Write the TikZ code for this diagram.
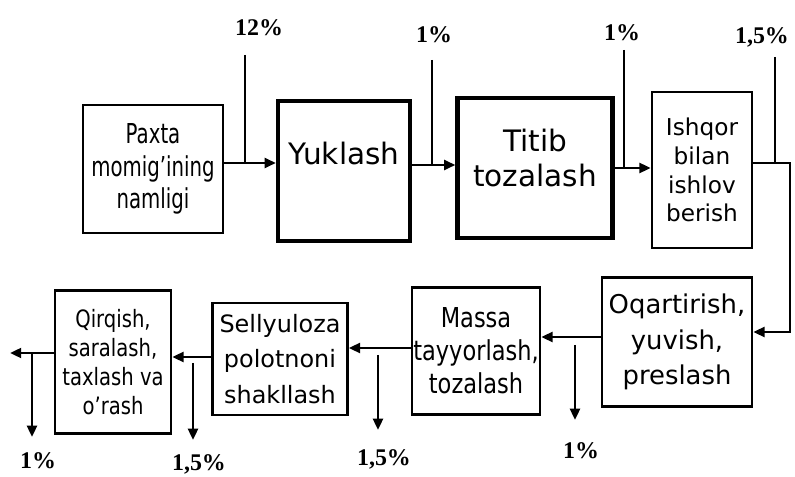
\documentclass[tikz,border=0pt]{standalone}
\usepackage{fontspec}
\setmainfont{DejaVu Sans}
\newfontfamily\narrowfont[FakeStretch=0.72]{DejaVu Sans}
\newfontfamily\semifont[FakeStretch=0.82]{DejaVu Sans}
\newfontfamily\pctfont{Liberation Serif}
\usetikzlibrary{arrows.meta}

\begin{document}
\begin{tikzpicture}[x=0.025cm,y=-0.025cm,
  box/.style={draw,line width=1.8pt,align=center,inner sep=0pt},
  bigbox/.style={box,line width=3pt},
  arr/.style={line width=1.8pt,-{Triangle[length=8pt,width=7pt]}},
  feed/.style={line width=1.5pt},
  pct/.style={font=\pctfont\bfseries\fontsize{17}{17}\selectfont}]
  \useasboundingbox (0,0) rectangle (795,477);

  % top row
  \node[box,minimum width=3.5cm,minimum height=3.2cm,
        font=\narrowfont\fontsize{19.5}{23}\selectfont] (paxta) at (153,169)
    {Paxta\\momig’ining\\namligi};
  \node[bigbox,minimum width=3.3cm,minimum height=3.5cm,text depth=0.9cm,
        font=\fontsize{21}{25}\selectfont] (yuklash) at (344,171) {Yuklash};
  \node[bigbox,minimum width=3.875cm,minimum height=3.5cm,text depth=0.5cm,
        font=\fontsize{21}{25}\selectfont] (titib) at (535,168) {Titib\\tozalash};
  \node[box,minimum width=2.5cm,minimum height=3.9cm,
        font=\fontsize{16.5}{20.5}\selectfont] (ishqor) at (702,170)
    {Ishqor\\bilan\\ishlov\\berish};

  % bottom row
  \node[box,minimum width=3.75cm,minimum height=3.225cm,
        font=\fontsize{18.4}{25.5}\selectfont] (oqart) at (677,342)
    {Oqartirish,\\yuvish,\\preslash};
  \node[box,minimum width=3.2cm,minimum height=3.175cm,
        font=\semifont\fontsize{19.5}{23.5}\selectfont] (massa) at (476,351)
    {Massa\\tayyorlash,\\tozalash};
  \node[box,minimum width=3.375cm,minimum height=2.8cm,
        font=\fontsize{17}{25}\selectfont] (sell) at (280,359)
    {Sellyuloza\\polotnoni\\shakllash};
  \node[box,minimum width=2.9cm,minimum height=3.575cm,
        font=\semifont\fontsize{17}{20.5}\selectfont] (qirq) at (113,362)
    {Qirqish,\\saralash,\\taxlash va\\o’rash};

  % feeds into the top row
  \foreach \n/\x/\y/\t/\lx/\ly/\p in {j1/245/163/55/259/28/12\%,
      j2/432/165/60/434/35/1\%, j3/624/168/50/622/33/1\%,
      j4/775/163/57/762/37/{1,5\%}} {
    \coordinate (\n) at (\x,\y);
    \coordinate (\n t) at (\x,\t);
    \node[pct] (\n p) at (\lx,\ly) {\p};
    \draw[feed] (\n t) -- (\n);
  }
  \draw[arr] (paxta.east |- j1) -- (yuklash.west |- j1);
  \draw[arr] (yuklash.east |- j2) -- (titib.west |- j2);
  \draw[arr] (titib.east |- j3) -- (ishqor.west |- j3);
  \coordinate (c1) at (790,163);
  \coordinate (c2) at (790,332);
  \draw[arr] (ishqor.east |- j4) -- (c1) -- (c2) -- (oqart.east |- c2);

  % bottom row with losses
  \coordinate (h1) at (575,337);
  \coordinate (h2) at (378,348);
  \coordinate (h3) at (193,357);
  \coordinate (h4) at (32,353);
  \coordinate (e4) at (10,353);
  \draw[arr] (oqart.west |- h1) -- (massa.east |- h1);
  \draw[arr] (massa.west |- h2) -- (sell.east |- h2);
  \draw[arr] (sell.west |- h3) -- (qirq.east |- h3);
  \draw[arr] (qirq.west |- h4) -- (e4);
  \foreach \n/\x/\a/\b/\ly/\p in {h1/575/345/420/451/1\%,
      h2/378/355/430/459/{1,5\%}, h3/193/363/440/464/{1,5\%},
      h4/32/353/437/461/1\%} {
    \coordinate (\n a) at (\x,\a);
    \coordinate (\n b) at (\x,\b);
    \node[pct] (\n p) at (\x+6,\ly) {\p};
    \draw[arr] (\n a) -- (\n b);
  }
\end{tikzpicture}
\end{document}
